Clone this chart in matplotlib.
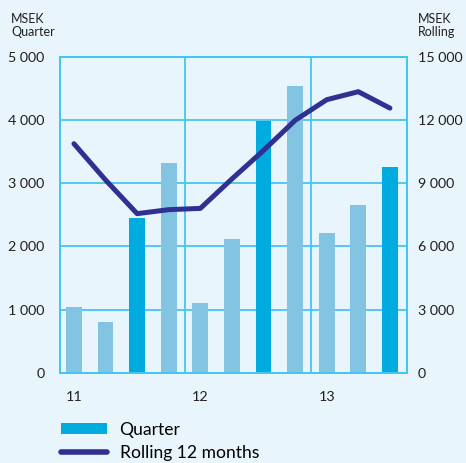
import matplotlib
matplotlib.use("Agg")
import matplotlib.pyplot as plt
from matplotlib.patches import Patch
from matplotlib.lines import Line2D

plt.rcParams['font.family'] = ['Lato', 'DejaVu Sans']

# quarterly values (MSEK), 11 quarters starting Q1 2011
quarter = [1040, 800, 2450, 3320, 1100, 2120, 3980, 4540, 2210, 2650, 3250]
# rolling 12 months (MSEK)
rolling = [10870, 9150, 7550, 7740, 7800, 9200, 10550, 11980, 12960, 13340, 12560]
year_labels = ['11', '12', '13']
year_pos = [0, 4, 8]
q4_idx = [2, 6, 10]

bg = '#e9f5fc'
grid_c = '#45c6ee'
dark_bar = '#00abe0'
light_bar = '#82c4e1'
line_c = '#2e3192'

fig = plt.figure(figsize=(4.66, 4.63), dpi=100, facecolor=bg)
ax = fig.add_axes([0.1288, 0.195, 0.7446, 0.6825])
ax.set_facecolor(bg)

x = list(range(len(quarter)))
colors = [dark_bar if i in q4_idx else light_bar for i in x]
ax.bar(x, quarter, width=0.5, color=colors, zorder=2)

ax.set_xlim(-0.44, 10.54)
ax.set_ylim(0, 5000)
ax.set_yticks(range(0, 5001, 1000))
ax.set_yticklabels(['0', '1 000', '2 000', '3 000', '4 000', '5 000'], fontsize=10.3)
ax.set_xticks(year_pos)
ax.set_xticklabels(year_labels, fontsize=10.3)
ax.tick_params(axis='both', length=0, colors='#231f20')
ax.tick_params(axis='x', pad=13)
ax.tick_params(axis='y', pad=11)
ax.grid(axis='y', color=grid_c, linewidth=1.3, zorder=1)
ax.set_axisbelow(True)
for xv in [3.5, 7.5]:
    ax.axvline(xv, color=grid_c, linewidth=1.3, zorder=1)
for s in ax.spines.values():
    s.set_color(grid_c)
    s.set_linewidth(1.3)

ax2 = ax.twinx()
ax2.plot(x, rolling, color=line_c, linewidth=3.6, solid_capstyle='round',
         solid_joinstyle='round', zorder=3)
ax2.set_ylim(0, 15000)
ax2.set_yticks(range(0, 15001, 3000))
ax2.set_yticklabels(['0', '3 000', '6 000', '9 000', '12 000', '15 000'], fontsize=10.3)
ax2.tick_params(axis='y', length=0, pad=8, colors='#231f20')
for s in ax2.spines.values():
    s.set_color(grid_c)
    s.set_linewidth(1.3)

fig.text(11 / 466, 1 - 13 / 463, 'MSEK\nQuarter', fontsize=9, va='top', ha='left',
         color='#231f20', linespacing=1.1)
fig.text(418 / 466, 1 - 13 / 463, 'MSEK\nRolling', fontsize=9, va='top', ha='left',
         color='#231f20', linespacing=1.1)

handles = [Patch(facecolor=dark_bar, edgecolor='none'),
           Line2D([0], [0], color=line_c, linewidth=4, solid_capstyle='round')]
fig.legend(handles, ['Quarter', 'Rolling 12 months'], loc='upper left',
           bbox_to_anchor=(61 / 466, 1 - 422 / 463), frameon=False, fontsize=12.6,
           handlelength=2.65, handleheight=0.6, handletextpad=0.7,
           labelspacing=0.4, borderpad=0, borderaxespad=0)

fig.savefig('out.png', dpi=100, facecolor=bg)
